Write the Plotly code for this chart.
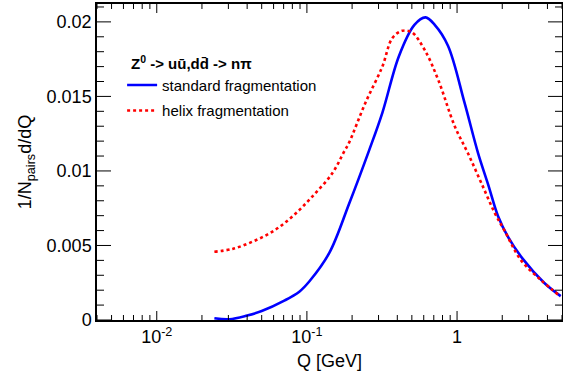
import math
import plotly.graph_objects as go

# Pair-distance spectra, Q in GeV
q_standard = [0.0242, 0.0305, 0.040, 0.050, 0.0707, 0.089, 0.104, 0.141, 0.191,
              0.26, 0.318, 0.41, 0.52, 0.617, 0.71, 0.87, 1.12, 1.38, 1.61,
              1.87, 2.18, 2.74, 3.8, 4.9]
v_standard = [0.00012, 0.00005, 0.0003, 0.0006, 0.0013, 0.0019, 0.0026, 0.0045, 0.0078,
              0.0114, 0.0139, 0.0177, 0.0198, 0.0203, 0.0198, 0.0184, 0.0146, 0.0112, 0.0091,
              0.0070, 0.0056, 0.0041, 0.0025, 0.0016]

q_helix = [0.0242, 0.032, 0.0435, 0.059, 0.080, 0.109, 0.148, 0.177, 0.191,
           0.245, 0.318, 0.37, 0.43, 0.50, 0.61, 0.75, 0.965, 1.18, 1.45,
           1.78, 2.07, 2.67, 3.6, 4.9]
v_helix = [0.00458, 0.00477, 0.00526, 0.00593, 0.00694, 0.0083, 0.00986, 0.0113, 0.0119,
           0.01456, 0.0170, 0.0189, 0.0194, 0.0193, 0.0181, 0.0161, 0.0130, 0.0112, 0.0092,
           0.0072, 0.0060, 0.0040, 0.0027, 0.00157]

x_tick_vals = [0.01, 0.1, 1]
x_tick_text = ["10<sup>-2</sup>", "10<sup>-1</sup>", "1"]
y_tick_vals = [0, 0.005, 0.01, 0.015, 0.02]
y_tick_text = ["0", "0.005", "0.01", "0.015", "0.02"]

X_MIN, X_MAX = 0.004, 5.0
Y_MIN, Y_MAX = 0.0, 0.0212

FONT = "Liberation Sans, Arial, Helvetica, sans-serif"

fig = go.Figure()
fig.add_trace(go.Scatter(x=q_standard, y=v_standard, mode="lines",
                         name="standard fragmentation", legendgroup="a",
                         line=dict(color="#0000ff", width=2.6, shape="spline")))
fig.add_trace(go.Scatter(x=q_helix, y=v_helix, mode="lines",
                         name="helix fragmentation", legendgroup="b",
                         line=dict(color="#ff0000", width=2.6, dash="dot", shape="spline")))

# ROOT-style inward ticks on all four sides of the frame
x_minor = []
for dec in range(-3, 1):
    for k in range(2, 10):
        v = k * 10.0 ** dec
        if X_MIN <= v <= X_MAX:
            x_minor.append(v)
y_minor = [i / 1000 for i in range(1, 22) if i % 5 != 0 and i / 1000 <= Y_MAX]

tick_line = dict(color="black", width=1)
shapes = []
for vals, length in ((x_tick_vals, 9), (x_minor, 5)):
    for v in vals:
        shapes.append(dict(type="line", xref="x", yref="paper", ysizemode="pixel",
                           yanchor=0, x0=v, x1=v, y0=0, y1=length, line=tick_line))
        shapes.append(dict(type="line", xref="x", yref="paper", ysizemode="pixel",
                           yanchor=1, x0=v, x1=v, y0=0, y1=-length, line=tick_line))
for vals, length in ((y_tick_vals, 14), (y_minor, 7)):
    for v in vals:
        shapes.append(dict(type="line", yref="y", xref="paper", xsizemode="pixel",
                           xanchor=0, y0=v, y1=v, x0=0, x1=length, line=tick_line))
        shapes.append(dict(type="line", yref="y", xref="paper", xsizemode="pixel",
                           xanchor=1, y0=v, y1=v, x0=0, x1=-length, line=tick_line))

fig.update_layout(
    template="none",
    width=563, height=376,
    margin=dict(l=97, r=1, t=4, b=56),
    paper_bgcolor="white", plot_bgcolor="white",
    font=dict(family=FONT, size=18, color="black"),
    showlegend=True,
    legend=dict(
        x=0.054, y=0.795, xanchor="left", yanchor="top",
        bgcolor="rgba(0,0,0,0)",
        font=dict(size=15),
        tracegroupgap=3,
    ),
    annotations=[dict(
        text="<b>Z<sup>0</sup> -> uū,dd̄ -> nπ</b>",
        xref="paper", yref="paper", x=0.069, y=0.78,
        xanchor="left", yanchor="bottom", showarrow=False,
        font=dict(size=15),
    )],
    shapes=shapes,
)

fig.update_xaxes(
    type="log",
    range=[math.log10(X_MIN), math.log10(X_MAX)],
    tickmode="array", tickvals=x_tick_vals, ticktext=x_tick_text,
    ticks="",
    showline=True, linecolor="black", linewidth=1.5, mirror=True,
    showgrid=False, zeroline=False,
    tickfont=dict(size=18),
    title=dict(text="Q [GeV]", font=dict(size=18), standoff=8),
)
fig.update_yaxes(
    range=[Y_MIN, Y_MAX],
    tickmode="array", tickvals=y_tick_vals, ticktext=y_tick_text,
    ticks="",
    showline=True, linecolor="black", linewidth=1.5, mirror=True,
    showgrid=False, zeroline=False,
    tickfont=dict(size=18),
    title=dict(text="1/N<sub>pairs</sub>d/dQ", font=dict(size=18), standoff=10),
)

fig.write_html("out.html")
